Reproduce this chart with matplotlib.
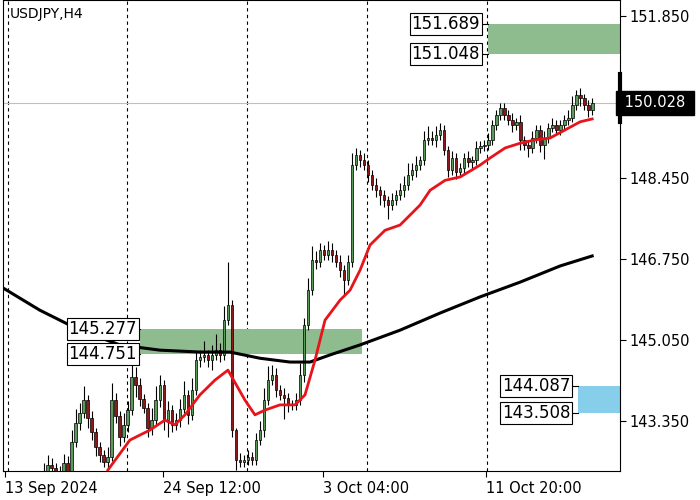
import matplotlib
matplotlib.use("Agg")
import matplotlib.pyplot as plt
from matplotlib.patches import Rectangle
import matplotlib.transforms as mtransforms

# H4 closes, one per bar
closes = [142.10, 142.00, 141.90, 141.85, 141.95, 142.05, 141.95, 142.05, 142.15, 142.25,
          142.42, 142.35, 142.30, 142.20, 142.45, 142.30, 142.90, 143.30, 143.51, 143.78,
          143.40, 143.10, 142.80, 142.63, 142.48, 142.59, 143.78, 143.45, 143.01, 143.26,
          143.57, 144.27, 144.10, 143.80, 143.61, 143.20, 143.36, 143.78, 144.10, 143.36,
          143.57, 143.26, 143.36, 143.60, 143.89, 143.47, 143.99, 144.62, 144.69, 144.73,
          144.62, 144.73, 144.83, 144.73, 145.46, 145.78, 143.15, 142.52, 142.48, 142.52,
          142.59, 142.52, 142.94, 143.15, 143.78, 144.20, 144.31, 143.99, 143.89, 143.83,
          143.68, 143.68, 143.78, 144.31, 145.36, 146.09, 146.72, 146.68, 146.93, 146.83,
          146.93, 146.83, 146.68, 146.51, 146.30, 146.68, 148.72, 148.93, 148.82, 148.72,
          148.51, 148.30, 148.19, 148.09, 147.98, 147.88, 147.98, 148.09, 148.19, 148.30,
          148.51, 148.61, 148.72, 148.82, 149.24, 149.29, 149.24, 149.35, 149.46, 149.03,
          148.61, 148.87, 148.57, 148.66, 148.87, 148.78, 148.82, 149.08, 149.12, 149.14,
          149.24, 149.56, 149.77, 149.92, 149.77, 149.67, 149.56, 149.62, 149.24, 149.14,
          149.08, 149.29, 149.46, 149.14, 149.29, 149.51, 149.56, 149.46, 149.56, 149.67,
          149.72, 149.98, 150.19, 150.12, 149.98, 149.88, 150.03]
first_open = 142.20
wick_up = [0.10, 0.15, 0.10, 0.05, 0.10, 0.15, 0.10, 0.10, 0.15, 0.20,
           0.20, 0.15, 0.10, 0.10, 0.20, 0.15, 0.25, 0.30, 0.20, 0.30,
           0.10, 0.15, 0.10, 0.10, 0.10, 0.20, 0.35, 0.15, 0.10, 0.25,
           0.20, 0.45, 0.20, 0.15, 0.10, 0.10, 0.25, 0.30, 0.20, 0.10,
           0.20, 0.10, 0.15, 0.20, 0.30, 0.10, 0.25, 0.20, 0.15, 0.30,
           0.10, 0.20, 0.35, 0.15, 0.30, 0.90, 0.10, 0.05, 0.15, 0.10,
           0.15, 0.10, 0.15, 0.20, 0.25, 0.30, 0.20, 0.15, 0.10, 0.15,
           0.10, 0.10, 0.15, 0.25, 0.15, 0.25, 0.30, 0.20, 0.15, 0.10,
           0.20, 0.15, 0.10, 0.15, 0.10, 0.15, 0.25, 0.15, 0.10, 0.15,
           0.10, 0.10, 0.15, 0.10, 0.10, 0.10, 0.15, 0.10, 0.15, 0.20,
           0.25, 0.15, 0.20, 0.10, 0.20, 0.25, 0.15, 0.20, 0.15, 0.10,
           0.10, 0.15, 0.10, 0.10, 0.10, 0.15, 0.10, 0.15, 0.10, 0.10,
           0.15, 0.10, 0.10, 0.10, 0.10, 0.10, 0.15, 0.10, 0.15, 0.10,
           0.10, 0.15, 0.10, 0.10, 0.15, 0.10, 0.15, 0.10, 0.10, 0.10,
           0.15, 0.20, 0.10, 0.15, 0.10, 0.10, 0.10]
wick_dn = [0.10, 0.10, 0.15, 0.10, 0.10, 0.10, 0.15, 0.10, 0.10, 0.10,
           0.10, 0.15, 0.10, 0.10, 0.10, 0.15, 0.10, 0.10, 0.15, 0.10,
           0.20, 0.15, 0.20, 0.15, 0.10, 0.15, 0.10, 0.15, 0.20, 0.10,
           0.15, 0.10, 0.25, 0.15, 0.10, 0.20, 0.15, 0.10, 0.15, 0.20,
           0.35, 0.15, 0.10, 0.15, 0.10, 0.20, 0.10, 0.10, 0.15, 0.10,
           0.15, 0.20, 0.10, 0.15, 0.10, 0.10, 0.15, 0.20, 0.10, 0.10,
           0.10, 0.10, 0.10, 0.10, 0.15, 0.10, 0.10, 0.15, 0.10, 0.45,
           0.15, 0.10, 0.10, 0.10, 0.15, 0.10, 0.10, 0.15, 0.10, 0.10,
           0.10, 0.15, 0.10, 0.15, 0.30, 0.10, 0.10, 0.10, 0.15, 0.10,
           0.15, 0.10, 0.15, 0.20, 0.15, 0.30, 0.10, 0.10, 0.10, 0.15,
           0.10, 0.10, 0.15, 0.10, 0.10, 0.10, 0.10, 0.15, 0.10, 0.10,
           0.15, 0.10, 0.15, 0.10, 0.10, 0.10, 0.15, 0.10, 0.10, 0.10,
           0.10, 0.10, 0.10, 0.10, 0.10, 0.10, 0.15, 0.10, 0.20, 0.10,
           0.20, 0.10, 0.10, 0.15, 0.30, 0.10, 0.10, 0.10, 0.10, 0.10,
           0.10, 0.10, 0.10, 0.15, 0.10, 0.15, 0.10]

# moving averages (bar index, price)
ma_fast_x = [25, 30.5, 35.5, 39.25, 41.75, 44.25, 48, 51.75, 55, 59.25, 61.75, 64.25, 68,
             71.75, 74.25, 76.75, 79.25, 83, 85.5, 88, 90.5, 94.25, 98, 103, 105.5, 109.25,
             113, 118, 120.5, 124.25, 128, 131.75, 135.5, 139.25, 143, 146]
ma_fast_y = [142.31, 142.94, 143.15, 143.36, 143.26, 143.47, 143.89, 144.20, 144.41, 143.78,
             143.47, 143.57, 143.68, 143.68, 143.89, 144.62, 145.46, 145.88, 146.09, 146.51,
             147.04, 147.35, 147.46, 147.88, 148.19, 148.40, 148.47, 148.72, 148.87, 149.08,
             149.18, 149.25, 149.29, 149.46, 149.63, 149.69]
ma_slow_x = [-1.25, 8, 18, 28, 38, 48, 55.5, 63, 70.5, 75.5, 80.5, 88, 98, 108, 118, 128, 138, 146]
ma_slow_y = [146.14, 145.67, 145.25, 144.94, 144.83, 144.79, 144.79, 144.66, 144.58, 144.58,
             144.73, 144.94, 145.25, 145.61, 145.95, 146.26, 146.60, 146.81]

# zones: (low, high, start bar, end bar)
zone_mid = (144.751, 145.277, 33, 88.5)
zone_top = (151.048, 151.689, 120, 153)
zone_buy = (143.508, 144.087, 142.5, 153)
last_price = 150.028

y_ticks = [143.350, 145.050, 146.750, 148.450, 150.150, 151.850]
x_tick_pos = [-0.75, 38.75, 78.75, 119.5]
x_tick_labels = ["13 Sep 2024", "24 Sep 12:00", "3 Oct 04:00", "11 Oct 20:00"]
week_lines = [0, 29.75, 59.75, 89.75, 119.75]

fig = plt.figure(figsize=(7, 5), dpi=100)
ax = fig.add_axes([0.004, 0.058, 0.882, 0.942])
ax.set_xlim(-1.25, 153)
ax.set_ylim(142.29, 152.19)

for x in week_lines:
    ax.axvline(x, color="black", ls=(0, (3, 3)), lw=0.8, zorder=1)

for lo, hi, x0, x1 in [zone_mid, zone_top, zone_buy]:
    col = "#87ceeb" if lo == zone_buy[0] else "#8fbc8f"
    ax.add_patch(Rectangle((x0, lo), x1 - x0, hi - lo, color=col, lw=0, zorder=2))

ax.axhline(last_price, color="#c0c0c0", lw=0.8, zorder=1)

opens = [first_open] + closes[:-1]
for i, (o, c) in enumerate(zip(opens, closes)):
    hi = max(o, c) + wick_up[i]
    lo = min(o, c) - wick_dn[i]
    ax.vlines(i, lo, hi, color="black", lw=0.8, zorder=3)
    fc = "#5b9a5b" if c >= o else "#8b1a1a"
    ax.add_patch(Rectangle((i - 0.35, min(o, c)), 0.7, max(abs(c - o), 0.02),
                           facecolor=fc, edgecolor="black", lw=0.5, zorder=4))

ax.plot(ma_slow_x, ma_slow_y, color="black", lw=2.2, zorder=5)
ax.plot(ma_fast_x, ma_fast_y, color="#e8141b", lw=2, zorder=6)

# level labels
def level_box(y, x_right, x_line_end):
    ax.text(x_right, y, f"{y:.3f}", ha="right", va="center", fontsize=12, zorder=8,
            bbox=dict(boxstyle="square,pad=0.12", fc="white", ec="black", lw=0.8))
    ax.plot([x_right, x_line_end], [y, y], color="black", lw=0.8, zorder=7)

level_box(zone_mid[1], 32.3, 33)
level_box(zone_mid[0], 32.3, 33)
level_box(zone_top[1], 118.0, 120)
level_box(zone_top[0], 118.0, 120)
level_box(zone_buy[1], 140.5, 142.5)
level_box(zone_buy[0], 140.5, 142.5)

ax.text(0.012, 0.985, "USDJPY,H4", transform=ax.transAxes, ha="left", va="top", fontsize=10)

# right price axis
ax.yaxis.tick_right()
ax.set_yticks(y_ticks)
ax.set_yticklabels([f"{v:.3f}" for v in y_ticks], fontsize=10.5)
ax.tick_params(axis="y", length=4, width=0.8, pad=3)
trans = mtransforms.blended_transform_factory(ax.transAxes, ax.transData)
ax.text(1.0, last_price, " 150.028 ", transform=trans, ha="left", va="center", fontsize=10.5,
        color="white", zorder=10, clip_on=False,
        bbox=dict(boxstyle="square,pad=0.3", fc="black", ec="black"))
ax.plot([1.0, 1.0], [last_price - 0.4, last_price + 0.6], transform=trans, color="black",
        lw=3, clip_on=False, zorder=10)

ax.set_xticks(x_tick_pos)
ax.set_xticklabels(x_tick_labels, fontsize=10.5, ha="left")
ax.tick_params(axis="x", length=4, width=0.8, pad=3)
for s in ax.spines.values():
    s.set_linewidth(0.8)

fig.savefig("out.png", dpi=100)
